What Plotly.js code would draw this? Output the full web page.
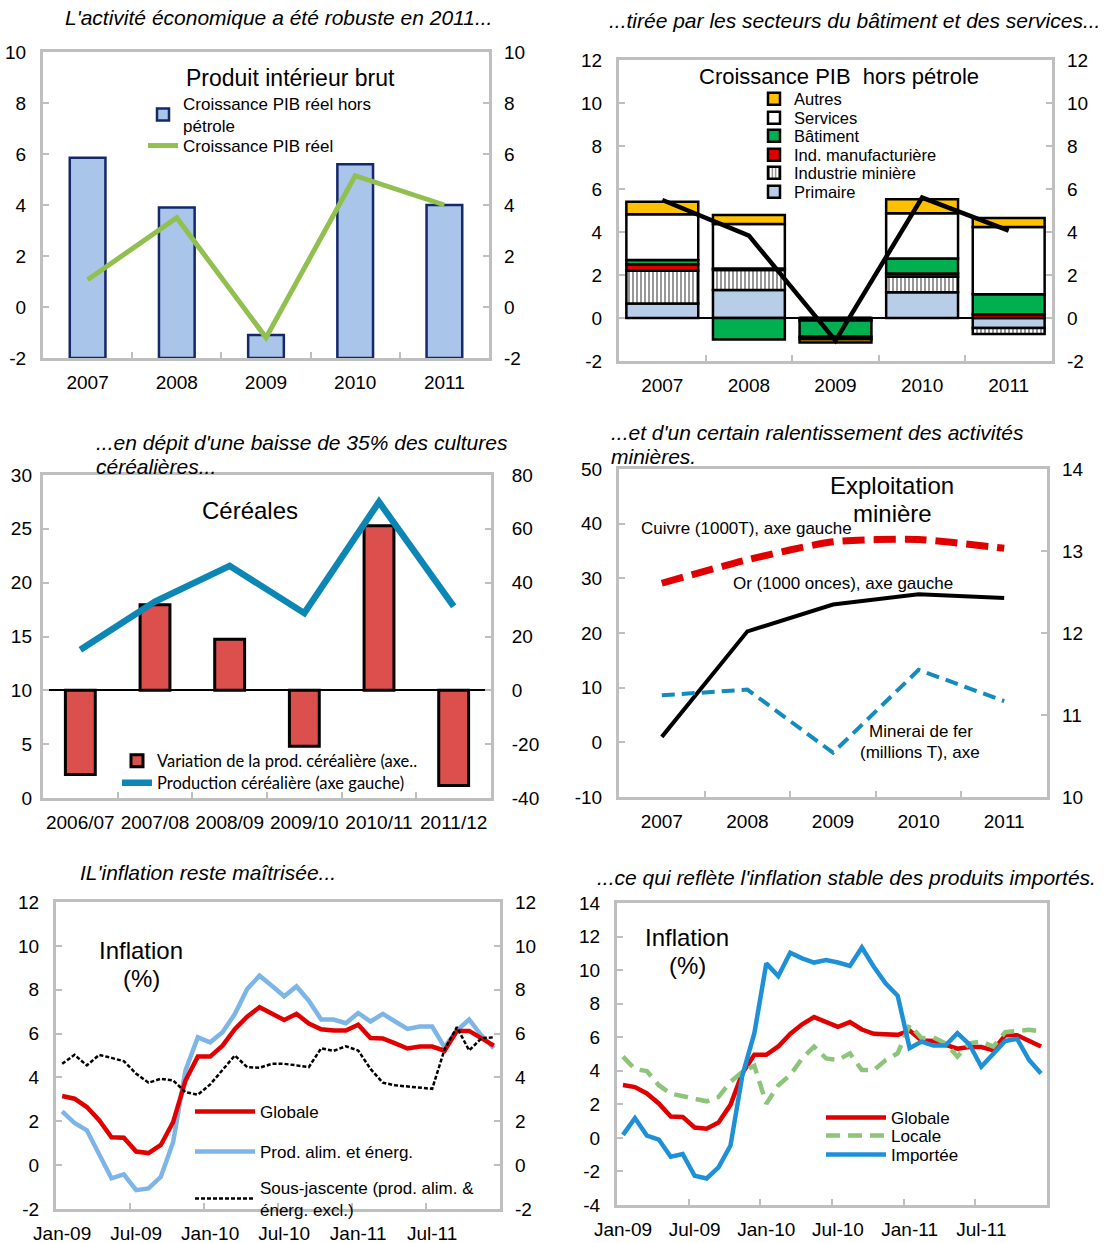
<!DOCTYPE html>
<html><head><meta charset="utf-8">
<script src="https://cdn.plot.ly/plotly-3.0.1.min.js"></script>
<style>html,body{margin:0;padding:0;background:#fff}#chart{width:1104px;height:1243px}</style>
</head><body><div id="chart"></div>
<script>
// ---------- DATA ----------
// Panel 1 : Produit intérieur brut
const years = ['2007', '2008', '2009', '2010', '2011'];
const pibHorsPetrole = [5.85, 3.9, -1.1, 5.6, 4.0];
const pibReel = [1.07, 3.5, -1.2, 5.15, 4.0];
// Panel 2 : Croissance PIB hors pétrole (contributions)
const primaire = [0.68, 1.3, 0.0, 1.2, -0.47];
const industrieMiniere = [1.52, 0.93, -0.12, 0.72, -0.27];
const indManufacturiere = [0.3, 0.07, 0.0, 0.15, 0.18];
const batiment = [0.2, -1.0, -0.75, 0.7, 0.93];
const services = [2.12, 2.07, -0.12, 2.1, 3.12];
const autres = [0.59, 0.42, -0.15, 0.65, 0.42];
const pibHorsPetroleTotal = [5.49, 3.83, -1.05, 5.6, 4.06];
// Panel 3 : Céréales
const campagnes = ['2006/07', '2007/08', '2008/09', '2009/10', '2010/11', '2011/12'];
const variationProdCereales = [-31.3, 31.8, 19.0, -20.8, 61.1, -35.4];
const productionCereales = [13.76, 18.25, 21.56, 17.17, 27.5, 17.8];
// Panel 4 : Exploitation minière
const cuivre = [29.1, 33.4, 36.7, 37.1, 35.5];
const orOnces = [1.0, 20.3, 25.2, 27.1, 26.4];
const mineraiFer = [11.24, 11.31, 10.54, 11.55, 11.17];
// Panels 5-6 : Inflation (%), mensuel janv. 2009 - déc. 2011
const mois = ['Jan-09','Feb-09','Mar-09','Apr-09','May-09','Jun-09','Jul-09','Aug-09','Sep-09','Oct-09','Nov-09','Dec-09',
              'Jan-10','Feb-10','Mar-10','Apr-10','May-10','Jun-10','Jul-10','Aug-10','Sep-10','Oct-10','Nov-10','Dec-10',
              'Jan-11','Feb-11','Mar-11','Apr-11','May-11','Jun-11','Jul-11','Aug-11','Sep-11','Oct-11','Nov-11','Dec-11'];
const moisTicks = ['Jan-09', 'Jul-09', 'Jan-10', 'Jul-10', 'Jan-11', 'Jul-11'];
const globale = [3.15,3.03,2.65,2.05,1.27,1.25,0.62,0.55,0.92,1.97,3.86,4.95,4.95,5.45,6.2,6.77,7.2,6.9,6.62,6.9,6.46,6.2,6.14,6.14,6.4,5.8,5.78,5.55,5.32,5.41,5.41,5.22,6.12,6.12,5.77,5.45];
const prodAlimEnerg = [2.45,1.92,1.59,0.45,-0.6,-0.42,-1.14,-1.06,-0.53,1.06,4.32,5.83,5.6,6.06,6.89,8.03,8.64,8.18,7.7,8.15,7.5,6.64,6.64,6.47,6.94,6.55,6.9,6.55,6.21,6.32,6.32,5.38,6.14,6.64,5.91,5.33];
const sousJacente = [4.62,5.03,4.55,5.03,4.89,4.74,4.17,3.76,3.94,3.86,3.33,3.21,3.68,4.32,5.0,4.47,4.44,4.62,4.62,4.55,4.47,5.33,5.21,5.42,5.23,4.39,3.76,3.64,3.59,3.56,3.48,5.27,6.29,5.23,5.79,5.83];
const locale = [4.84,4.1,3.98,3.14,2.64,2.48,2.3,2.18,2.44,3.34,3.94,4.3,2.04,3.14,3.74,4.74,5.44,4.74,4.64,5.04,4.04,4.04,4.64,5.04,6.74,5.94,5.98,5.64,4.84,5.64,5.74,5.44,6.3,6.34,6.44,6.34];
const importee = [0.18,1.18,0.14,-0.1,-1.12,-0.96,-2.26,-2.42,-1.76,-0.46,3.74,6.24,10.4,9.64,11.04,10.7,10.45,10.6,10.45,10.25,11.35,10.2,9.2,8.47,5.35,5.74,5.5,5.5,6.24,5.58,4.24,4.98,5.78,5.9,4.64,3.84];

// ---------- LAYOUT HELPERS ----------
const W = 1104, H = 1243;
const F = 'Liberation Sans, Arial, sans-serif';
const FC = 'Lato, Liberation Sans, sans-serif';
const dx = (a, b) => [a / W, b / W];
const dy = (top, bot) => [1 - bot / H, 1 - top / H];
const monthIdx = mois.map((m, i) => i);
const monthTickIdx = moisTicks.map(m => mois.indexOf(m));
const monthBounds = moisTicks.slice(1).map(m => mois.indexOf(m) - 0.5);
const P1BASE = -2;

const GRAY = '#bfbfbf';
const tickfont = {family: F, size: 19, color: '#000'};
function tickSet(range, dtick) {
  const vals = [], text = [];
  for (let v = range[0]; v <= range[1] + 1e-9; v += dtick) { vals.push(v); text.push(String(Math.round(v * 100) / 100)); }
  return {tickmode: 'array', tickvals: vals, ticktext: text};
}
function xCat(dom, anchor, n) {
  return {domain: dom, anchor: anchor, type: 'category', tickson: 'boundaries', range: [-0.5, n - 0.5],
    showline: true, mirror: true, linecolor: GRAY, linewidth: 3, tickangle: 0,
    ticks: 'inside', ticklen: 6, tickwidth: 2, tickcolor: GRAY,
    showgrid: false, zeroline: false, tickfont: tickfont, ticklabelstandoff: 5, fixedrange: true};
}
function xMonth(dom, anchor) {
  return {domain: dom, anchor: anchor, range: [-0.5, mois.length - 0.5],
    tickmode: 'array', tickvals: monthTickIdx, ticktext: moisTicks, tickangle: 0,
    showline: true, mirror: true, linecolor: GRAY, linewidth: 3, ticks: '',
    minor: {tickmode: 'array', tickvals: monthBounds, ticks: 'inside', ticklen: 6, tickwidth: 2, tickcolor: GRAY},
    showgrid: false, zeroline: false, tickfont: tickfont, ticklabelstandoff: 5, fixedrange: true};
}
function yL(dom, anchor, range, dtick, extra) {
  return Object.assign({domain: dom, anchor: anchor, range: range, side: 'left',
    showline: true, mirror: true, linecolor: GRAY, linewidth: 3,
    ticks: 'inside', ticklen: 6, tickwidth: 2, tickcolor: GRAY,
    showgrid: false, zeroline: false, tickfont: tickfont, ticklabelstandoff: 10, fixedrange: true},
    tickSet(range, dtick), extra || {});
}
function yR(over, anchor, range, dtick, extra) {
  return Object.assign({overlaying: over, anchor: anchor, range: range, side: 'right',
    showline: false, ticks: 'inside', ticklen: 6, tickwidth: 2, tickcolor: GRAY,
    showgrid: false, zeroline: false, tickfont: tickfont, ticklabelstandoff: 14, fixedrange: true},
    tickSet(range, dtick), extra || {});
}

// ---------- TRACES ----------
const traces = [];
// Panel 1
traces.push({type: 'bar', x: years, y: pibHorsPetrole.map(v => v - P1BASE), base: P1BASE, width: 0.4,
  xaxis: 'x', yaxis: 'y', name: 'Croissance PIB réel hors<br>pétrole', legend: 'legend',
  marker: {color: '#a9c5ea', line: {color: '#14286a', width: 2.5}}});
traces.push({type: 'scatter', mode: 'lines', x: years, y: pibReel, xaxis: 'x', yaxis: 'y2',
  name: 'Croissance PIB réel', legend: 'legend2', line: {color: '#92c050', width: 5}});
// Panel 2
const p2 = [
  ['Primaire', primaire, {color: '#b8cde8'}],
  ['Industrie minière', industrieMiniere, {color: '#ffffff', pattern: {shape: '|', fgcolor: '#8c8c8c', bgcolor: '#ffffff', size: 4, solidity: 0.45}}],
  ['Ind. manufacturière', indManufacturiere, {color: '#e00000'}],
  ['Bâtiment', batiment, {color: '#00b050'}],
  ['Services', services, {color: '#ffffff'}],
  ['Autres', autres, {color: '#ffc000'}]
];
p2.forEach((s, i) => {
  const m = Object.assign({line: {color: '#000', width: 2.5}}, s[2]);
  traces.push({type: 'bar', x: years, y: s[1], width: 0.83, xaxis: 'x2', yaxis: 'y3',
    name: s[0], legend: 'legend' + (3 + i), marker: m});
});
traces.push({type: 'scatter', mode: 'lines', x: years, y: pibHorsPetroleTotal, xaxis: 'x2', yaxis: 'y4',
  showlegend: false, line: {color: '#000', width: 4.5}});
// Panel 3
traces.push({type: 'bar', x: campagnes, y: variationProdCereales, width: 0.4, xaxis: 'x3', yaxis: 'y5',
  name: 'Variation de la prod. céréalière (axe..', legend: 'legend9',
  marker: {color: '#db4f4d', line: {color: '#000', width: 3}}});
traces.push({type: 'scatter', mode: 'lines', x: campagnes, y: productionCereales, xaxis: 'x3', yaxis: 'y6',
  name: 'Production céréalière (axe gauche)', legend: 'legend10', line: {color: '#0b86b5', width: 6.5}});
// Panel 4
traces.push({type: 'scatter', mode: 'lines', x: years, y: cuivre, xaxis: 'x4', yaxis: 'y7', showlegend: false,
  line: {color: '#e00000', width: 7, dash: '22px,9px', shape: 'spline', smoothing: 0.6}});
traces.push({type: 'scatter', mode: 'lines', x: years, y: orOnces, xaxis: 'x4', yaxis: 'y7', showlegend: false,
  line: {color: '#000', width: 4}});
traces.push({type: 'scatter', mode: 'lines', x: years, y: mineraiFer, xaxis: 'x4', yaxis: 'y8', showlegend: false,
  line: {color: '#138bbd', width: 4, dash: '13px,7px'}});
// Panel 5
traces.push({type: 'scatter', mode: 'lines', x: monthIdx, y: prodAlimEnerg, xaxis: 'x5', yaxis: 'y9',
  name: 'Prod. alim. et énerg.', legend: 'legend12', line: {color: '#7db5e6', width: 4.5}});
traces.push({type: 'scatter', mode: 'lines', x: monthIdx, y: globale, xaxis: 'x5', yaxis: 'y9',
  name: 'Globale', legend: 'legend11', line: {color: '#e00000', width: 4.5}});
traces.push({type: 'scatter', mode: 'lines', x: monthIdx, y: sousJacente, xaxis: 'x5', yaxis: 'y10',
  name: 'Sous-jascente (prod. alim. &<br>énerg. excl.)', legend: 'legend13', line: {color: '#000', width: 2.5, dash: '4px,2px'}});
// Panel 6
traces.push({type: 'scatter', mode: 'lines', x: monthIdx, y: globale, xaxis: 'x6', yaxis: 'y11',
  name: 'Globale', legend: 'legend14', line: {color: '#e00000', width: 4.5}});
traces.push({type: 'scatter', mode: 'lines', x: monthIdx, y: locale, xaxis: 'x6', yaxis: 'y11',
  name: 'Locale', legend: 'legend15', line: {color: '#8cc47a', width: 4.5, dash: '14px,8px'}});
traces.push({type: 'scatter', mode: 'lines', x: monthIdx, y: importee, xaxis: 'x6', yaxis: 'y11',
  name: 'Importée', legend: 'legend16', line: {color: '#1e90d8', width: 4.5}});

// ---------- AXES ----------
const layout = {
  width: W, height: H, margin: {l: 0, r: 0, t: 0, b: 0}, autosize: false,
  paper_bgcolor: '#fff', plot_bgcolor: 'rgba(0,0,0,0)', barmode: 'relative', showlegend: true,
  font: {family: F, color: '#000'}, hovermode: false,
  xaxis: xCat(dx(43, 489), 'y', years.length),
  yaxis: yL(dy(52, 358), 'x', [-2, 10], 2),
  yaxis2: yR('y', 'x', [-2, 10], 2),
  xaxis2: xCat(dx(619, 1052), 'y3', years.length),
  yaxis3: yL(dy(60, 361), 'x2', [-2, 12], 2, {zeroline: true, zerolinecolor: '#000', zerolinewidth: 2}),
  yaxis4: yR('y3', 'x2', [-2, 12], 2),
  xaxis3: xCat(dx(43, 491), 'y5', campagnes.length),
  yaxis5: yL(dy(475, 798), 'x3', [-40, 80], 20, {side: 'right', ticklabelstandoff: 14, zeroline: true, zerolinecolor: '#000', zerolinewidth: 2}),
  yaxis6: yR('y5', 'x3', [0, 30], 5, {side: 'left', ticklabelstandoff: 10}),
  xaxis4: xCat(dx(619, 1047), 'y7', years.length),
  yaxis7: yL(dy(469, 797), 'x4', [-10, 50], 10),
  yaxis8: yR('y7', 'x4', [10, 14], 1),
  xaxis5: xMonth(dx(56, 500), 'y9'),
  yaxis9: yL(dy(902, 1209), 'x5', [-2, 12], 2),
  yaxis10: yR('y9', 'x5', [-2, 12], 2),
  xaxis6: xMonth(dx(617, 1047), 'y11'),
  yaxis11: yL(dy(903, 1205), 'x6', [-4, 14], 2),
  yaxis12: yR('y11', 'x6', [-4, 12], 2)
};

// ---------- LEGENDS (one per entry, positioned in px) ----------
function leg(xText, yc, font, iw) {
  iw = iw || 30;
  return {x: (xText - iw - 10) / W, y: 1 - yc / H, xanchor: 'left', yanchor: 'middle', orientation: 'v',
    bgcolor: 'rgba(0,0,0,0)', borderwidth: 0, font: font, itemwidth: iw, tracegroupgap: 0};
}
const lf = {family: F, size: 17, color: '#000'};
layout.legend = leg(183, 115, lf);
layout.legend2 = leg(183, 146, lf);
const p2rows = [192, 173, 155, 136, 118, 99];
p2rows.forEach((yc, i) => { layout['legend' + (3 + i)] = leg(794, yc, {family: F, size: 16.5, color: '#000'}); });
layout.legend9 = leg(157, 761, {family: FC, size: 16.5, color: '#000'});
layout.legend10 = leg(157, 783, {family: FC, size: 16.5, color: '#000'});
layout.legend11 = leg(260, 1112, lf, 60);
layout.legend12 = leg(260, 1152, lf, 60);
layout.legend13 = leg(260, 1199, lf, 60);
layout.legend14 = leg(891, 1118, lf, 60);
layout.legend15 = leg(891, 1136, lf, 60);
layout.legend16 = leg(891, 1155, lf, 60);

// ---------- TEXT ----------
function ann(text, xPx, yPx, size, opts) {
  return Object.assign({text: text, xref: 'paper', yref: 'paper', x: xPx / W, y: 1 - yPx / H,
    xanchor: 'center', yanchor: 'middle', showarrow: false, borderpad: 0,
    font: {family: F, size: size, color: '#000'}}, opts || {});
}
const it = t => '<i>' + t + '</i>';
const TS = 21;
layout.annotations = [
  ann(it("L'activité économique a été robuste en 2011..."), 278, 17, TS),
  ann('Produit intérieur brut', 290, 78, 23),
  ann(it('...tirée par les secteurs du bâtiment et des services...'), 854, 20, TS),
  ann('Croissance PIB  hors pétrole', 839, 77, 22),
  ann(it("...en dépit d'une baisse de 35% des cultures"), 95, 442, TS, {xanchor: 'left'}),
  ann(it('céréalières...'), 95, 467, TS, {xanchor: 'left'}),
  ann('Céréales', 250, 511, 24),
  ann(it("...et d'un certain ralentissement des activités"), 610, 432, TS, {xanchor: 'left'}),
  ann(it('minières.'), 610, 456, TS, {xanchor: 'left'}),
  ann('Exploitation', 892, 486, 24),
  ann('minière', 892, 513, 24),
  ann('Cuivre (1000T), axe gauche', 640, 528, 17, {xanchor: 'left'}),
  ann('Or (1000 onces), axe gauche', 732, 583, 17, {xanchor: 'left'}),
  ann('Minerai de fer', 921, 731, 17),
  ann('(millions T), axe', 920, 752, 17),
  ann(it("IL'inflation reste maîtrisée..."), 79, 872, TS, {xanchor: 'left'}),
  ann('Inflation', 141, 950, 24),
  ann('(%)', 141, 978, 24),
  ann(it("...ce qui reflète l'inflation stable des produits importés."), 596, 877, TS, {xanchor: 'left'}),
  ann('Inflation', 687, 938, 24),
  ann('(%)', 687, 965, 24)
];

Plotly.newPlot('chart', traces, layout, {staticPlot: true, displayModeBar: false});
</script>
</body></html>
